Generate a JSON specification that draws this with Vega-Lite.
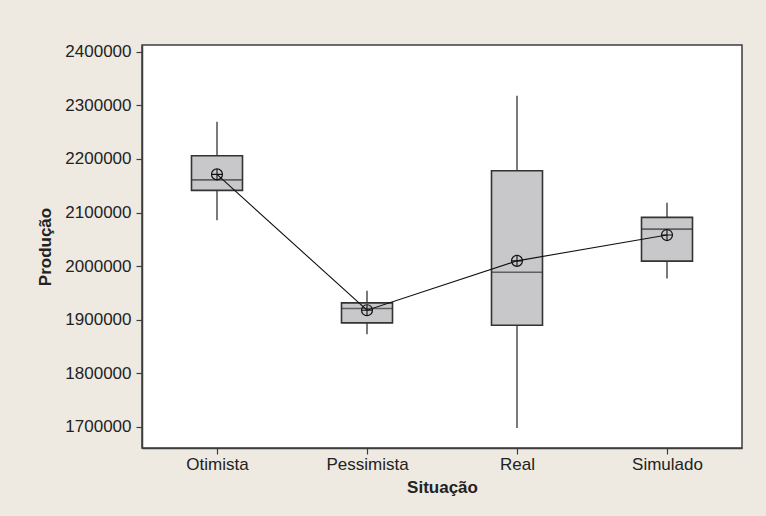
{
  "$schema": "https://vega.github.io/schema/vega-lite/v6.json",
  "width": 600,
  "height": 403,
  "autosize": "none",
  "padding": {"left": 142, "top": 45, "right": 24, "bottom": 68},
  "background": "#EEEAE1",
  "config": {
    "font": "Liberation Sans",
    "view": {"fill": "white", "stroke": "#3d3d3d", "strokeWidth": 1.5},
    "axis": {
      "labelFont": "Liberation Sans",
      "labelFontSize": 17,
      "labelColor": "#222222",
      "titleFont": "Liberation Sans",
      "titleFontSize": 17,
      "titleFontWeight": "bold",
      "titleColor": "#222222",
      "domainColor": "#3d3d3d",
      "domainWidth": 1.5,
      "tickColor": "#3d3d3d",
      "tickWidth": 1.2,
      "grid": false
    }
  },
  "data": {
    "values": [
      {"situacao": "Otimista", "min": 2085800, "q1": 2141300, "median": 2161000, "q3": 2205900, "max": 2269300, "mean": 2171100},
      {"situacao": "Pessimista", "min": 1873000, "q1": 1894100, "median": 1921000, "q3": 1931500, "max": 1953900, "mean": 1917800},
      {"situacao": "Real", "min": 1698100, "q1": 1889800, "median": 1988700, "q3": 2177900, "max": 2318000, "mean": 2009900},
      {"situacao": "Simulado", "min": 1977000, "q1": 2009300, "median": 2069000, "q3": 2091000, "max": 2118100, "mean": 2058000}
    ]
  },
  "encoding": {
    "x": {
      "field": "situacao",
      "type": "nominal",
      "sort": null,
      "scale": {"type": "point", "padding": 0.5},
      "axis": {"title": "Situação", "labelAngle": 0, "tickSize": 6, "labelPadding": 2, "titlePadding": 7}
    }
  },
  "layer": [
    {
      "mark": {"type": "rule", "color": "#333333", "strokeWidth": 1.3},
      "encoding": {
        "y": {"field": "min", "type": "quantitative", "title": "Produção",
          "scale": {"domain": [1660800, 2412500], "nice": false, "zero": false},
          "axis": {"values": [1700000, 1800000, 1900000, 2000000, 2100000, 2200000, 2300000, 2400000], "format": "d", "tickSize": 6, "labelPadding": 5, "titlePadding": 10}},
        "y2": {"field": "max"}
      }
    },
    {
      "mark": {"type": "bar", "size": 51, "fill": "#C8C8CA", "stroke": "#333333", "strokeWidth": 1.6},
      "encoding": {
        "y": {"field": "q1", "type": "quantitative", "title": "Produção",
          "scale": {"domain": [1660800, 2412500], "nice": false, "zero": false},
          "axis": {"values": [1700000, 1800000, 1900000, 2000000, 2100000, 2200000, 2300000, 2400000], "format": "d", "tickSize": 6, "labelPadding": 5, "titlePadding": 10}},
        "y2": {"field": "q3"}
      }
    },
    {
      "mark": {"type": "tick", "size": 51, "thickness": 1.6, "color": "#333333"},
      "encoding": {
        "y": {"field": "median", "type": "quantitative", "title": "Produção",
          "scale": {"domain": [1660800, 2412500], "nice": false, "zero": false},
          "axis": {"values": [1700000, 1800000, 1900000, 2000000, 2100000, 2200000, 2300000, 2400000], "format": "d", "tickSize": 6, "labelPadding": 5, "titlePadding": 10}}
      }
    },
    {
      "mark": {"type": "line", "color": "#111111", "strokeWidth": 1.1},
      "encoding": {
        "y": {"field": "mean", "type": "quantitative", "title": "Produção",
          "scale": {"domain": [1660800, 2412500], "nice": false, "zero": false},
          "axis": {"values": [1700000, 1800000, 1900000, 2000000, 2100000, 2200000, 2300000, 2400000], "format": "d", "tickSize": 6, "labelPadding": 5, "titlePadding": 10}}
      }
    },
    {
      "mark": {"type": "point", "shape": "circle", "filled": false, "size": 120, "stroke": "#111111", "strokeWidth": 1.2, "opacity": 1},
      "encoding": {
        "y": {"field": "mean", "type": "quantitative", "title": "Produção",
          "scale": {"domain": [1660800, 2412500], "nice": false, "zero": false},
          "axis": {"values": [1700000, 1800000, 1900000, 2000000, 2100000, 2200000, 2300000, 2400000], "format": "d", "tickSize": 6, "labelPadding": 5, "titlePadding": 10}}
      }
    },
    {
      "mark": {"type": "point", "shape": "M-1,0H1M0,-1V1", "filled": false, "size": 120, "stroke": "#111111", "strokeWidth": 1.1, "opacity": 1},
      "encoding": {
        "y": {"field": "mean", "type": "quantitative", "title": "Produção",
          "scale": {"domain": [1660800, 2412500], "nice": false, "zero": false},
          "axis": {"values": [1700000, 1800000, 1900000, 2000000, 2100000, 2200000, 2300000, 2400000], "format": "d", "tickSize": 6, "labelPadding": 5, "titlePadding": 10}}
      }
    }
  ]
}
